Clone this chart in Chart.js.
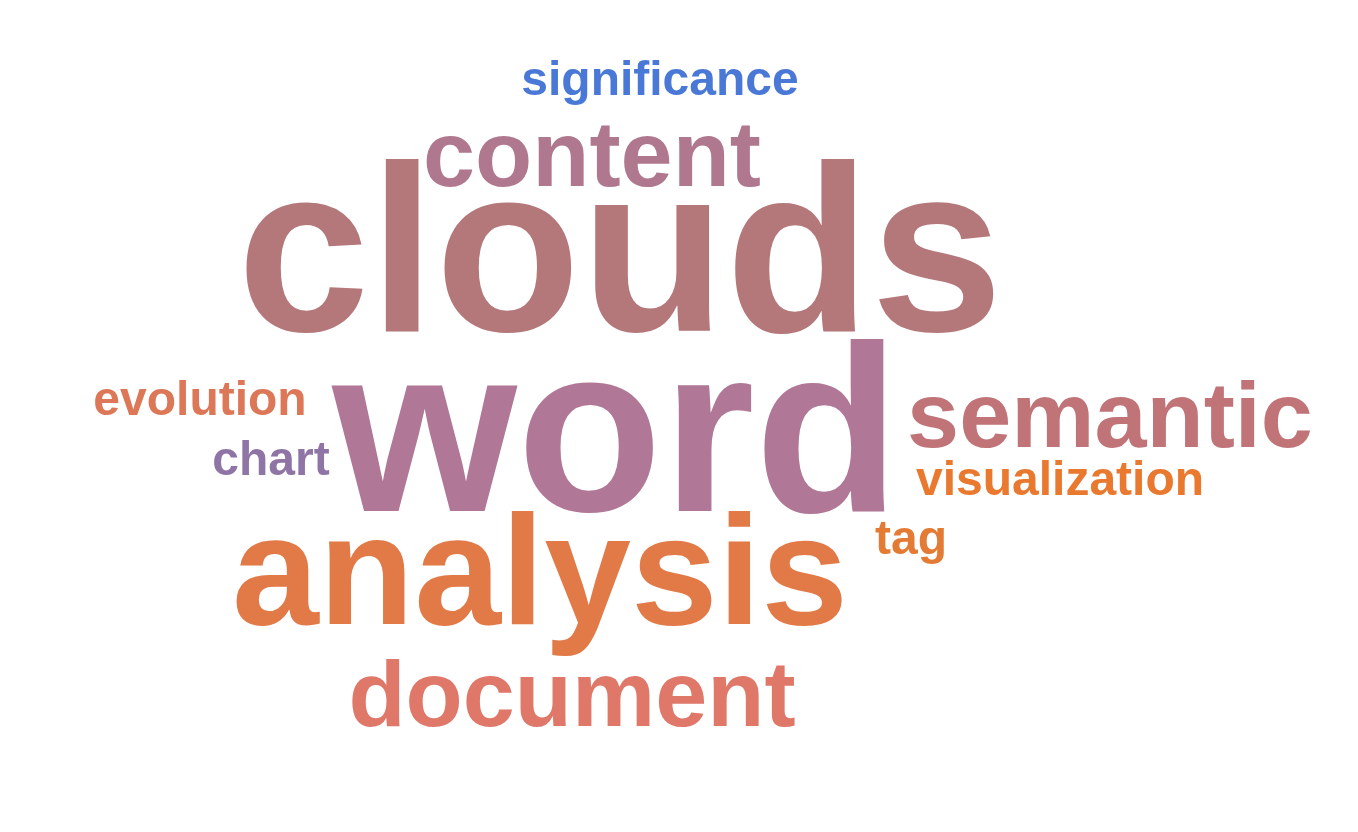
<!DOCTYPE html>
<html>
<head>
<meta charset="utf-8">
<script src="https://cdn.jsdelivr.net/npm/chart.js@4/dist/chart.umd.min.js"></script>
<style>
  html, body { margin: 0; padding: 0; background: #fff; }
  #box { width: 1358px; height: 832px; }
</style>
</head>
<body>
<div id="box"><canvas id="cloud"></canvas></div>
<script>
// words and their weights (font size = weight * 2.4)
var words   = ['significance', 'content', 'clouds', 'word', 'evolution', 'chart', 'semantic', 'visualization', 'tag', 'analysis', 'document'];
var weights = [20, 39, 99, 99, 20, 20, 39, 20, 20, 65, 39];
// layout position of each word (center x, baseline y)
var posX    = [660, 592, 620, 616, 200, 271, 1110, 1060, 911, 540, 572];
var posY    = [95, 186, 331, 511, 415, 475, 447, 495, 554, 624, 726];
var colors  = ['#4a78d6', '#b0788e', '#b5787a', '#b07896', '#dc7858', '#8f74a6', '#c07478', '#e8792f', '#e47b35', '#e27a48', '#e0786a'];

var points = words.map(function (w, i) {
    return {x: posX[i], y: posY[i]};
});

const wordPlugin = {
    id: 'wordText',
    afterDatasetsDraw: function (chart) {
        const ctx = chart.ctx;
        const meta = chart.getDatasetMeta(0);
        ctx.save();
        ctx.textAlign = 'center';
        ctx.textBaseline = 'alphabetic';
        meta.data.forEach(function (pt, i) {
            ctx.font = 'bold ' + (weights[i] * 2.4) + 'px "Liberation Sans", Arial, sans-serif';
            ctx.fillStyle = colors[i];
            ctx.fillText(words[i], pt.x, pt.y);
        });
        ctx.restore();
    }
};

const config = {
    type: 'scatter',
    data: {
        labels: words,
        datasets: [{
            label: 'words',
            data: points,
            pointRadius: 0,
            pointHoverRadius: 0
        }]
    },
    options: {
        responsive: true,
        maintainAspectRatio: false,
        animation: false,
        layout: {padding: 0},
        scales: {
            x: {type: 'linear', min: 0, max: 1358, display: false},
            y: {type: 'linear', min: 0, max: 832, reverse: true, display: false}
        },
        plugins: {
            legend: {display: false},
            tooltip: {enabled: false}
        }
    },
    plugins: [wordPlugin]
};
const cloud = new Chart(document.getElementById('cloud'), config);
</script>
</body>
</html>
